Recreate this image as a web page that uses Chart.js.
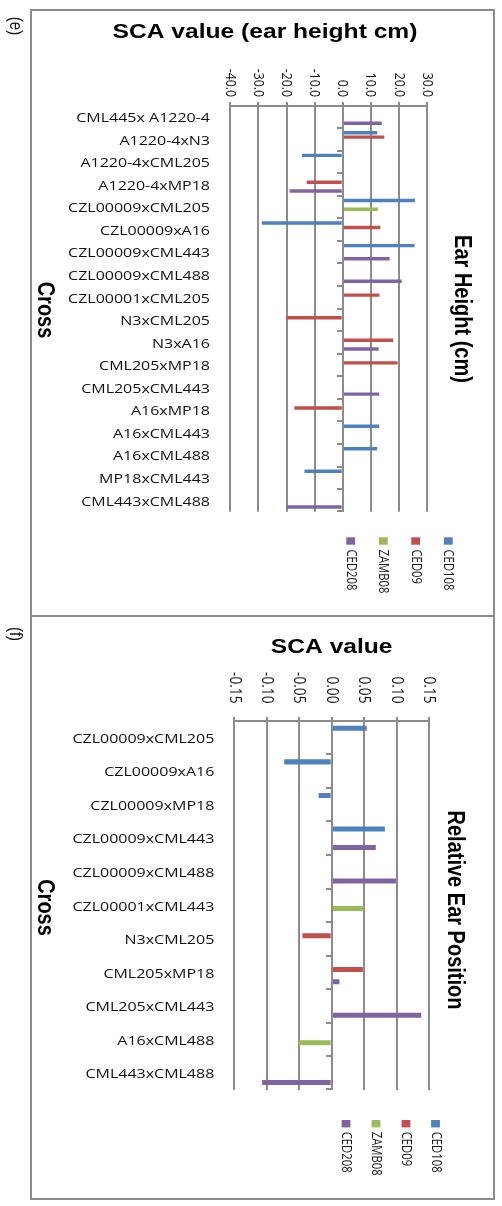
<!DOCTYPE html>
<html>
<head>
<meta charset="utf-8">
<title>SCA values by cross</title>
<script src="https://cdn.jsdelivr.net/npm/chart.js@4/dist/chart.umd.min.js"></script>
<style>
  html, body { margin: 0; padding: 0; background: #fff; }
  #page { position: relative; width: 502px; height: 1206px; overflow: hidden; }
  .frame { position: absolute; border: 2px solid #8c8c8c; box-sizing: border-box; }
  .panel { position: absolute; left: 0; width: 502px; }
  .panel canvas { display: block; }
</style>
</head>
<body>
<div id="page">
  <div class="frame" style="left:30px;top:9px;width:465px;height:608px"></div>
  <div class="frame" style="left:30px;top:615px;width:465px;height:585px"></div>
  <div class="panel" style="top:0;height:616px"><canvas id="chartE" width="502" height="616"></canvas></div>
  <div class="panel" style="top:616px;height:590px"><canvas id="chartF" width="502" height="590"></canvas></div>
</div>
<script>
// ---- series shared by both panels ----
const seriesNames  = ['CED108', 'CED09', 'ZAMB08', 'CED208'];
const seriesColors = ['#4F81BD', '#C0504D', '#9BBB59', '#8064A2'];

// ---- (e) SCA for ear height (cm) ----
const heightCrosses = [
  'CML445x A1220-4', 'A1220-4xN3', 'A1220-4xCML205', 'A1220-4xMP18',
  'CZL00009xCML205', 'CZL00009xA16', 'CZL00009xCML443', 'CZL00009xCML488',
  'CZL00001xCML205', 'N3xCML205', 'N3xA16', 'CML205xMP18',
  'CML205xCML443', 'A16xMP18', 'A16xCML443', 'A16xCML488',
  'MP18xCML443', 'CML443xCML488'
];
const heightCED108 = [null, 12.3, -14.5, null, 25.7, -28.8, 25.6, null, null, null, null, null, null, null, 13.0, 12.3, -13.6, null];
const heightCED09  = [null, 14.8, null, -12.8, null, 13.4, null, null, 13.1, -20.1, 18.0, 19.5, null, -17.2, null, null, null, null];
const heightZAMB08 = [null, null, null, null, 12.5, null, null, null, null, null, null, null, null, null, null, null, null, null];
const heightCED208 = [13.9, null, null, -18.9, null, null, 16.7, 21.0, null, null, 12.8, null, 13.0, null, null, null, null, -20.1];
const heightTicks  = [-40, -30, -20, -10, 0, 10, 20, 30];

// ---- (f) SCA for relative ear position ----
const positionCrosses = [
  'CZL00009xCML205', 'CZL00009xA16', 'CZL00009xMP18', 'CZL00009xCML443',
  'CZL00009xCML488', 'CZL00001xCML443', 'N3xCML205', 'CML205xMP18',
  'CML205xCML443', 'A16xCML488', 'CML443xCML488'
];
const positionCED108 = [0.054, -0.073, -0.020, 0.082, null, null, null, null, null, null, null];
const positionCED09  = [null, null, null, null, null, null, -0.045, 0.048, null, null, null];
const positionZAMB08 = [null, null, null, null, null, 0.050, null, null, null, -0.051, null];
const positionCED208 = [null, null, null, 0.068, 0.099, null, null, 0.012, 0.138, null, -0.107];
const positionTicks  = [-0.15, -0.10, -0.05, 0.00, 0.05, 0.10, 0.15];

// ---- drawing style ----
const GRID = '#8c8c8c';
const SX = 1.23;                       // horizontal stretch applied to all lettering
const SANS = '"Open Sans", "Liberation Sans", sans-serif';
const ARIAL = '"Liberation Sans", Arial, sans-serif';

function drawLabel(ctx, str, x, y, font, opt) {
  opt = opt || {};
  ctx.save();
  ctx.translate(x, y);
  ctx.scale(SX, 1);
  if (opt.rotate) ctx.rotate(opt.rotate);
  ctx.font = font;
  ctx.fillStyle = opt.color || '#000';
  ctx.textAlign = opt.align || 'left';
  ctx.textBaseline = opt.baseline || 'alphabetic';
  ctx.fillText(str, 0, 0);
  ctx.restore();
}

function decorations(L) {
  return {
    id: 'decor' + L.letter,
    afterDatasetsDraw(chart) {
      const ctx = chart.ctx, xs = chart.scales.x, ys = chart.scales.y, a = chart.chartArea;
      ctx.save();
      ctx.strokeStyle = GRID;
      ctx.lineWidth = 2;
      ctx.lineCap = 'butt';
      ctx.beginPath();
      // value axis along the top edge, with outward tick marks
      const top = Math.round(a.top);
      ctx.moveTo(Math.round(a.left) - 1, top);
      ctx.lineTo(Math.round(a.right) + 1, top);
      xs.ticks.forEach(t => {
        const x = Math.round(xs.getPixelForValue(t.value));
        ctx.moveTo(x, top);
        ctx.lineTo(x, top - 4);
      });
      // category axis crossing at zero, with marks between categories
      const x0 = Math.round(xs.getPixelForValue(0));
      ctx.moveTo(x0, a.top);
      ctx.lineTo(x0, a.bottom);
      const n = L.categories.length;
      for (let i = 0; i <= n; i++) {
        let y;
        if (i === 0) y = a.top;
        else if (i === n) y = a.bottom - 1;
        else y = (ys.getPixelForValue(i - 1) + ys.getPixelForValue(i)) / 2;
        y = Math.round(y);
        ctx.moveTo(x0, y);
        ctx.lineTo(x0 - 6, y);
      }
      ctx.stroke();
      ctx.restore();
    },
    afterDraw(chart) {
      const ctx = chart.ctx, xs = chart.scales.x, ys = chart.scales.y;
      const HALF_PI = Math.PI / 2;

      // panel letter
      drawLabel(ctx, L.letter, L.letterX, L.letterY, '15px ' + ARIAL,
        { rotate: HALF_PI, align: 'center', baseline: 'middle', color: '#111' });

      // value-axis title
      drawLabel(ctx, L.title, L.titleX, L.titleY, 'bold 20px ' + ARIAL, { align: 'center' });

      // value tick labels, reading downwards
      xs.ticks.forEach(t => {
        drawLabel(ctx, t.value.toFixed(L.decimals), xs.getPixelForValue(t.value), L.tickEnd,
          L.tickFont + 'px ' + SANS, { rotate: HALF_PI, align: 'right', baseline: 'middle', color: '#111' });
      });

      // cross names
      L.categories.forEach((c, i) => {
        drawLabel(ctx, c, L.catRight, ys.getPixelForValue(i) + 1.5, '13px ' + SANS,
          { align: 'right', baseline: 'middle', color: '#111' });
      });

      // category-axis title and trait name
      drawLabel(ctx, 'Cross', 45, L.crossY, 'bold 20px ' + ARIAL,
        { rotate: HALF_PI, align: 'center', baseline: 'middle' });
      drawLabel(ctx, L.trait, L.traitX, L.traitY, 'bold 20px ' + ARIAL,
        { rotate: HALF_PI, align: 'center', baseline: 'middle' });

      // legend keys
      chart.data.datasets.forEach((ds, i) => {
        const cx = L.legendX[i];
        ctx.fillStyle = ds.backgroundColor;
        ctx.fillRect(cx - 4.4, L.legendBoxTop, 8.8, 7.4);
        drawLabel(ctx, ds.label, cx, L.legendTextTop, '11.3px ' + SANS,
          { rotate: HALF_PI, align: 'left', baseline: 'middle', color: '#1a1a1a' });
      });
    }
  };
}

function buildChart(canvasId, L, series, ticks, min, max) {
  const datasets = series.map((values, i) => ({
    label: seriesNames[i],
    data: values,
    backgroundColor: seriesColors[i],
    borderWidth: 0,
    categoryPercentage: L.catPct,
    barPercentage: L.barPct
  }));
  return new Chart(document.getElementById(canvasId), {
    type: 'bar',
    data: { labels: L.categories, datasets },
    options: {
      indexAxis: 'y',
      responsive: false,
      animation: false,
      devicePixelRatio: 1,
      layout: { padding: L.padding },
      plugins: { legend: { display: false }, tooltip: { enabled: false }, title: { display: false } },
      scales: {
        x: {
          type: 'linear', position: 'top', min, max,
          afterBuildTicks: s => { s.ticks = ticks.map(v => ({ value: v })); },
          afterFit: s => { s.height = 0; },
          ticks: { display: false },
          grid: { color: GRID, lineWidth: 2, drawTicks: false },
          border: { display: false }
        },
        y: {
          type: 'category',
          afterFit: s => { s.width = 0; },
          ticks: { display: false },
          grid: { display: false, drawTicks: false },
          border: { display: false }
        }
      }
    },
    plugins: [decorations(L)]
  });
}

buildChart('chartE', {
  categories: heightCrosses,
  letter: '(e)', letterX: 15, letterY: 26,
  title: 'SCA value (ear height cm)', titleX: 265, titleY: 38,
  trait: 'Ear Height (cm)', traitX: 462, traitY: 309,
  crossY: 310,
  decimals: 1, tickFont: 12.3, tickEnd: 97,
  catRight: 210,
  catPct: 0.773, barPct: 0.78,
  padding: { left: 230.3, right: 75, top: 105.5, bottom: 104.3 },
  legendX: [448.3, 415.7, 383.3, 350.7], legendBoxTop: 537.3, legendTextTop: 549.5
}, [heightCED108, heightCED09, heightZAMB08, heightCED208], heightTicks, -40, 30);

buildChart('chartF', {
  categories: positionCrosses,
  letter: '(f)', letterX: 15, letterY: 18,
  title: 'SCA value', titleX: 331.7, titleY: 36.7,
  trait: 'Relative Ear Position', traitX: 455, traitY: 294,
  crossY: 291.5,
  decimals: 2, tickFont: 13.7, tickEnd: 87.5,
  catRight: 214.3,
  catPct: 0.73, barPct: 0.82,
  padding: { left: 234.3, right: 73, top: 104.7, bottom: 116 },
  legendX: [435.5, 406, 376, 346], legendBoxTop: 504, legendTextTop: 515.7
}, [positionCED108, positionCED09, positionZAMB08, positionCED208], positionTicks, -0.15, 0.15);
</script>
</body>
</html>
